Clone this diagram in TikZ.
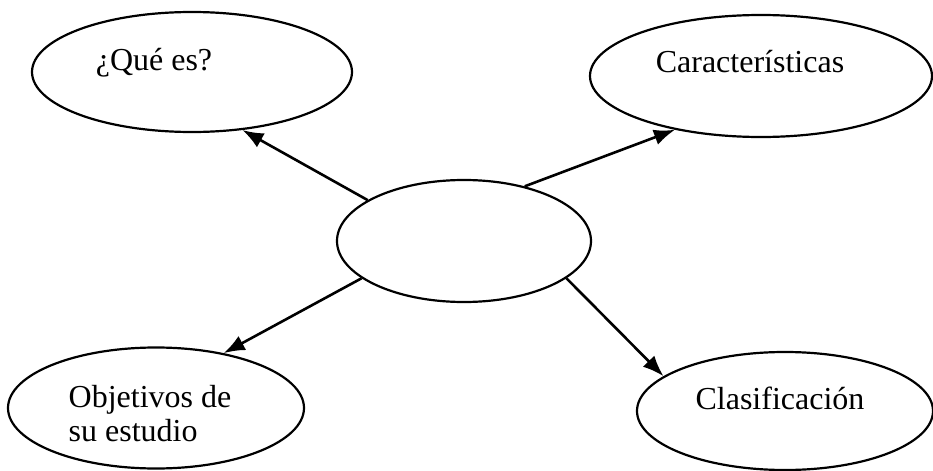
\documentclass[tikz,border=0pt]{standalone}
\usepackage{fontspec}
\setmainfont{Liberation Serif}
\usetikzlibrary{positioning, shapes.geometric, arrows.meta}

\tikzset{
    bubble/.style={ellipse, draw, line width=1.1pt, inner sep=0pt},
    link/.style={-{Latex[length=10.5pt, width=8pt]}, line width=1.3pt}
}

\begin{document}
\begin{tikzpicture}[x=0.5pt, y=-0.5pt, font=\fontsize{16}{17}\selectfont]
            \useasboundingbox (0, 0) rectangle (933, 471);
            \node[bubble, minimum width=160pt, minimum height=60pt,
                label={[xshift=-19pt, yshift=4.5pt]center:¿Qué es?}] (que) at (192, 72) {};
            \node[bubble, minimum width=171pt, minimum height=61pt,
                label={[xshift=-5.5pt, yshift=7pt]center:Características}] (caract) at (761, 76) {};
            \node[bubble, minimum width=127pt, minimum height=61pt] (center) at (464, 241) {};
            \node[bubble, minimum width=148pt, minimum height=60.5pt,
                label={[xshift=-3pt, yshift=-3pt, align=left]center:Objetivos de\\su estudio}] (objet) at (156, 408) {};
            \node[bubble, minimum width=148pt, minimum height=59pt,
                label={[xshift=-2.5pt, yshift=6.5pt]center:Clasificación}] (clasif) at (785, 411) {};

            \draw [link] (center.157) -- (que.311);
            \draw [link] (center.42) -- (caract.212);
            \draw [link] (center.200) -- (objet.39);
            \draw [link] (center.340) -- (clasif.164);
        \end{tikzpicture}
\end{document}
